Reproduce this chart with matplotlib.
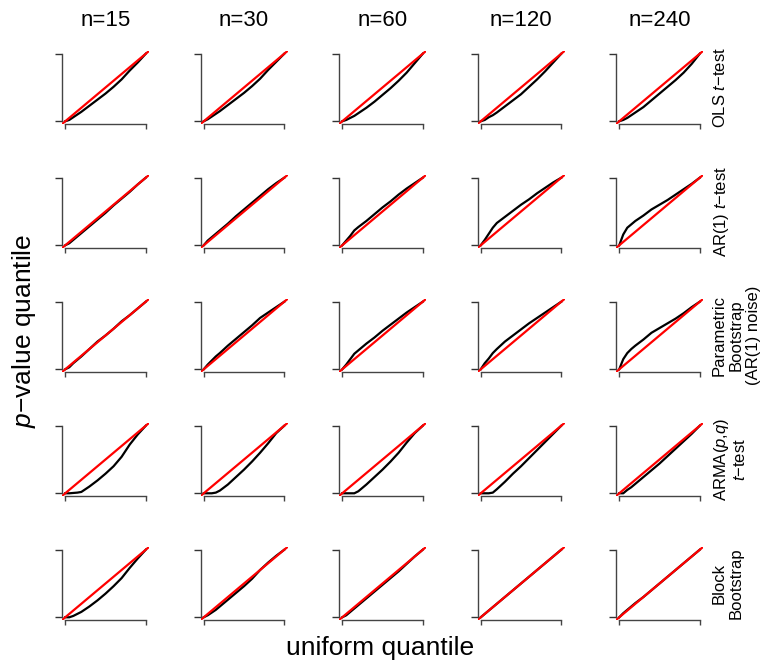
import numpy as np
import matplotlib
matplotlib.use('Agg')
import matplotlib.pyplot as plt

plt.rcParams['font.family'] = ['Liberation Sans', 'DejaVu Sans']
plt.rcParams['mathtext.fontset'] = 'custom'
plt.rcParams['mathtext.it'] = 'Liberation Sans:italic'
plt.rcParams['mathtext.rm'] = 'Liberation Sans'

sample_sizes = ['n=15', 'n=30', 'n=60', 'n=120', 'n=240']
methods = ['OLS $t$\u2212test', 'AR(1) $t$\u2212test',
           'Parametric\nBootstrap\n(AR(1) noise)',
           'ARMA($p$,$q$)\n$t$\u2212test', 'Block\nBootstrap']

# uniform quantiles shared by all panels
uq = [0, .05, .1, .15, .2, .3, .4, .5, .6, .7, .8, .9, 1]

# p-value quantiles, one list per panel (row = method, col = n)
ols = [
    [0, .02, .06, .10, .14, .23, .32, .41, .51, .62, .75, .87, 1],
    [0, .03, .07, .11, .15, .24, .33, .42, .52, .63, .76, .88, 1],
    [0, .02, .05, .08, .12, .20, .29, .39, .49, .60, .72, .86, 1],
    [0, .02, .06, .09, .13, .22, .31, .40, .51, .62, .74, .87, 1],
    [0, .02, .05, .09, .13, .21, .31, .41, .51, .61, .72, .85, 1],
]
ar1 = [
    [0, .03, .08, .13, .18, .28, .38, .48, .59, .69, .79, .90, 1],
    [0, .07, .12, .17, .22, .32, .43, .53, .63, .73, .83, .92, 1],
    [0, .07, .14, .22, .27, .36, .46, .56, .65, .75, .84, .92, 1],
    [0, .08, .17, .26, .33, .42, .51, .60, .68, .77, .85, .93, 1],
    [0, .16, .26, .31, .36, .44, .53, .60, .67, .75, .83, .91, 1],
]
parboot = [
    [0, .03, .09, .14, .19, .30, .41, .50, .60, .71, .80, .90, 1],
    [0, .07, .13, .19, .24, .35, .45, .55, .65, .76, .84, .92, 1],
    [0, .07, .15, .23, .28, .38, .47, .57, .66, .75, .84, .92, 1],
    [0, .09, .16, .24, .30, .41, .50, .59, .68, .76, .84, .92, 1],
    [0, .15, .24, .30, .35, .44, .54, .61, .68, .75, .83, .92, 1],
]
arma = [
    [0, 0, .005, .01, .02, .10, .19, .29, .40, .54, .72, .87, 1],
    [0, 0, 0, .01, .04, .13, .24, .35, .47, .60, .74, .89, 1],
    [0, 0, 0, 0, .03, .13, .24, .35, .47, .60, .75, .89, 1],
    [0, 0, 0, .01, .06, .17, .29, .40, .52, .64, .76, .88, 1],
    [0, 0, .05, .09, .14, .24, .34, .44, .55, .66, .77, .88, 1],
]
blockboot = [
    [0, 0, .02, .05, .08, .16, .25, .35, .46, .58, .73, .87, 1],
    [0, .03, .07, .11, .16, .26, .36, .46, .57, .70, .81, .91, 1],
    [0, .03, .08, .13, .18, .28, .38, .48, .58, .68, .79, .90, 1],
    [0, .05, .10, .15, .20, .30, .40, .50, .60, .70, .80, .90, 1],
    [0, .06, .11, .16, .21, .30, .40, .50, .60, .70, .80, .90, 1],
]
pq = [ols, ar1, parboot, arma, blockboot]

W, H = 764, 667
fig = plt.figure(figsize=(W / 100, H / 100), dpi=100)

for i in range(5):
    for j in range(5):
        left = 62 + 138.5 * j
        top = 51 + 124 * i
        ax = fig.add_axes([left / W, (H - top - 73) / H, 87 / W, 73 / H])
        ax.plot(uq, pq[i][j], color='black', lw=1.6)
        ax.axline((0, 0), slope=1, color='red', lw=1.6)
        ax.set_xlim(-0.04, 1.04)
        ax.set_ylim(-0.04, 1.04)
        for s in ['top', 'right']:
            ax.spines[s].set_visible(False)
        for s in ['left', 'bottom']:
            ax.spines[s].set_bounds(0, 1)
            ax.spines[s].set_color('#444444')
            ax.spines[s].set_linewidth(1.0)
        ax.set_xticks([0, 1])
        ax.set_yticks([0, 1])
        ax.set_xticklabels([])
        ax.set_yticklabels([])
        ax.tick_params(axis='y', length=4.8, width=1.0, color='#333333')
        ax.tick_params(axis='x', length=3.8, width=1.0, color='#444444')
        if i == 0:
            fig.text((left + 43.5) / W, 1 - 20 / H, sample_sizes[j],
                     ha='center', va='center', fontsize=16)
    fig.text(712 / W, 1 - (51 + 124 * i + 36.5) / H, methods[i],
             rotation=90, ha='left', va='center', fontsize=12,
             multialignment='center', linespacing=1.15)

fig.text(24 / W, 1 - 331 / H, '$p$\u2212value quantile', rotation=90,
         ha='center', va='center', fontsize=19)
fig.text(380 / W, 1 - 648 / H, 'uniform quantile',
         ha='center', va='center', fontsize=19)

fig.savefig('out.png', dpi=100)
